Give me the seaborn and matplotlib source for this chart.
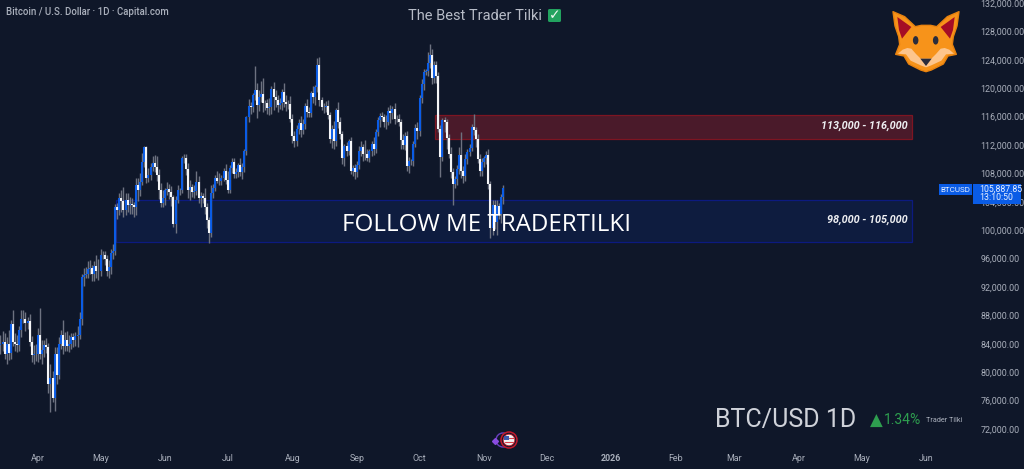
import matplotlib
matplotlib.use("Agg")
import matplotlib.pyplot as plt
import numpy as np
import pandas as pd
import seaborn as sns
from matplotlib.patches import Circle, Ellipse, FancyBboxPatch, Polygon, Rectangle

# daily closes in thousands of USD, one list per month
close_mar = [84.0, 84.3, 82.6, 84.0, 82.7, 86.8, 84.2, 84.0, 83.8, 86.0, 87.5, 87.5, 86.9, 87.2, 84.3, 82.4, 82.6, 82.5]
close_apr = [85.2, 82.5, 83.1, 83.8, 83.5, 78.3, 79.2, 76.3, 82.6, 79.6,
             84.0, 85.3, 83.7, 84.6, 83.7, 84.0, 84.9, 84.5, 85.1, 85.2,
             87.5, 93.4, 93.7, 93.9, 94.6, 94.7, 93.8, 95.0, 94.3, 94.2]
close_may = [96.5, 96.5, 96.0, 94.3, 94.8, 96.8, 97.0, 103.2, 102.9, 104.6,
             104.1, 102.8, 104.2, 103.5, 103.7, 103.5, 103.2, 106.4, 105.6, 106.8,
             109.6, 111.7, 107.3, 107.8, 108.9, 109.4, 108.9, 107.8, 105.6, 103.9, 104.6]
close_jun = [105.6, 105.8, 105.4, 104.7, 100.9, 104.3, 105.6, 105.7, 110.2, 110.2,
             108.6, 105.6, 106.1, 105.4, 105.5, 106.8, 104.5, 104.8, 104.6, 103.3,
             101.5, 99.6, 105.3, 106.0, 107.3, 107.0, 107.0, 107.3, 108.3, 107.1]
close_jul = [105.7, 108.8, 109.6, 107.9, 108.2, 109.2, 108.2, 108.9, 111.2, 115.9,
             117.5, 117.4, 119.0, 119.8, 117.6, 118.7, 119.2, 117.9, 117.9, 117.2,
             117.4, 119.9, 118.7, 118.3, 117.6, 117.9, 119.4, 118.0, 117.8, 117.8, 115.7]
close_aug = [113.2, 112.5, 114.2, 115.1, 114.1, 115.0, 117.5, 116.6, 116.5, 119.3,
             118.7, 120.1, 123.3, 118.3, 117.4, 117.4, 117.5, 116.2, 112.9, 114.2,
             112.5, 116.9, 115.3, 113.5, 110.1, 111.8, 111.2, 112.5, 108.4, 108.8, 108.2]
close_sep = [109.2, 111.2, 111.7, 110.7, 110.7, 110.2, 111.2, 112.1, 111.5, 113.9,
             115.5, 116.1, 115.9, 115.3, 115.3, 116.8, 116.5, 117.1, 115.7, 115.7,
             115.3, 112.7, 112.0, 113.3, 109.0, 109.7, 109.7, 112.1, 114.4, 114.0]
close_oct = [118.6, 120.6, 122.3, 122.4, 123.5, 124.7, 121.4, 123.3, 121.7, 114.3,
             110.3, 115.5, 115.2, 113.0, 110.8, 108.2, 106.5, 107.2, 108.6, 110.6,
             108.4, 107.6, 110.0, 111.0, 111.6, 114.5, 114.1, 112.9, 110.0, 108.3, 109.6]
close_nov = [110.1, 110.6, 106.5, 100.3, 103.5, 101.2, 103.4, 102.3, 104.7, 105.9]

# wick lengths above the body
up_mar = [1.2, 1.5, 1.2, 1.0, 2.0, 0.6, 2.0, 1.3, 1.2, 0.5, 1.2, 1.2, 1.0, 0.6, 1.0, 0.8, 1.2, 1.4]
up_apr = [1.0, 3.8, 1.5, 0.8, 1.0, 0.6, 2.0, 1.0, 0.9, 1.0, 1.0, 0.7, 2.0, 1.0, 1.2,
          1.3, 0.6, 0.6, 0.5, 1.3, 1.0, 0.5, 1.0, 0.9, 1.0, 1.1, 0.4, 0.6, 1.5, 1.7]
up_may = [0.8, 0.5, 0.6, 0.5, 1.0, 0.5, 1.0, 0.5, 0.7, 0.6, 1.0, 2.0, 1.0, 1.0, 1.0, 0.9,
          0.5, 0.9, 1.0, 1.2, 1.3, 0.1, 0.1, 1.0, 0.5, 1.0, 1.2, 1.5, 0.8, 1.0, 1.0]
up_jun = [0.4, 1.0, 0.7, 0.8, 0.3, 0.5, 0.8, 0.3, 0.3, 0.6, 0.5, 0.8, 1.0, 0.4, 0.8,
          1.5, 0.8, 0.6, 0.5, 1.3, 0.5, 0.3, 1.0, 0.5, 0.5, 1.0, 1.0, 0.5, 0.4, 1.0]
up_jul = [1.3, 0.4, 0.6, 0.5, 0.6, 0.3, 1.0, 0.6, 0.3, 0.2, 1.0, 0.6, 0.3, 3.3, 1.0, 1.0,
          1.8, 2.2, 0.4, 0.6, 1.2, 0.4, 1.0, 1.0, 0.8, 0.7, 0.5, 1.4, 1.0, 0.6, 1.1]
up_aug = [0.7, 0.8, 0.6, 0.6, 1.0, 0.7, 0.4, 1.0, 0.7, 0.3, 1.0, 0.4, 1.0, 1.1, 0.4, 0.5,
          0.7, 0.8, 0.5, 0.6, 1.2, 0.3, 1.2, 0.7, 0.5, 0.4, 0.6, 0.3, 0.6, 0.4, 0.5]
up_sep = [0.5, 0.7, 0.8, 0.5, 2.0, 0.8, 0.3, 0.5, 1.0, 0.4, 0.4, 0.4, 0.6, 0.4, 0.9,
          0.6, 0.8, 0.4, 0.8, 0.5, 0.7, 0.4, 0.9, 0.5, 0.7, 0.6, 0.3, 0.4, 0.5, 0.8]
up_oct = [0.4, 0.7, 0.4, 0.3, 1.6, 1.5, 0.8, 0.5, 0.6, 0.6, 0.5, 0.3, 0.5, 0.5, 0.6, 0.9,
          0.5, 0.4, 0.6, 1.1, 3.2, 0.6, 0.8, 0.5, 0.6, 0.4, 1.8, 0.4, 0.6, 0.8, 0.5]
up_nov = [0.4, 0.6, 0.8, 0.5, 0.7, 0.8, 0.8, 0.4, 0.4, 0.5]

# wick lengths below the body
down_mar = [1.4, 1.0, 0.8, 1.4, 1.0, 0.8, 0.5, 1.0, 1.0, 0.8, 1.0, 0.6, 1.1, 0.8, 0.6, 1.0, 1.2, 0.9]
down_apr = [1.0, 0.6, 1.3, 1.0, 0.8, 1.3, 3.9, 0.5, 1.7, 1.2, 0.5, 0.7, 1.2, 0.7, 0.7,
            0.8, 0.8, 1.0, 0.8, 1.5, 0.5, 0.8, 1.2, 0.5, 0.7, 0.7, 1.0, 1.0, 1.0, 1.2]
down_may = [0.7, 0.6, 0.9, 0.7, 1.0, 1.0, 0.8, 0.5, 1.3, 0.8, 1.5, 1.0, 0.6, 1.0, 1.2, 1.2,
            1.4, 1.0, 1.5, 0.8, 0.5, 0.7, 0.6, 0.5, 0.7, 0.6, 0.7, 0.8, 1.2, 0.7, 0.7]
down_jun = [1.0, 0.7, 1.0, 1.3, 0.4, 1.3, 0.4, 0.6, 0.5, 0.8, 0.8, 1.0, 1.3, 0.7, 0.8,
            0.5, 0.6, 1.2, 0.7, 1.0, 1.2, 1.4, 0.5, 0.8, 0.5, 0.4, 0.7, 0.6, 0.4, 0.6]
down_jul = [0.5, 0.5, 0.8, 0.5, 0.6, 0.7, 0.6, 1.0, 0.7, 0.6, 0.7, 1.0, 0.8, 0.7, 1.8, 0.8,
            0.6, 1.2, 0.9, 0.8, 1.0, 1.0, 1.7, 1.0, 0.9, 0.5, 0.9, 0.6, 1.0, 0.7, 0.5]
down_aug = [0.9, 0.8, 0.6, 0.7, 1.0, 0.6, 0.8, 0.6, 0.5, 0.6, 0.8, 1.0, 0.7, 0.8, 0.5, 0.9,
            0.7, 0.5, 0.6, 1.3, 1.0, 0.6, 0.9, 0.7, 0.8, 1.0, 0.7, 0.6, 0.5, 0.7, 1.0]
down_sep = [0.7, 0.6, 0.8, 0.9, 0.8, 0.5, 0.6, 0.7, 0.9, 0.6, 0.7, 0.9, 0.5, 0.8, 1.0,
            0.5, 1.4, 0.8, 0.7, 0.5, 0.6, 1.3, 0.6, 0.7, 0.7, 1.0, 0.5, 0.6, 0.4, 1.2]
down_oct = [0.8, 0.7, 0.8, 0.5, 0.7, 0.6, 0.8, 0.7, 0.9, 0.5, 2.8, 0.5, 1.3, 1.5, 0.7, 0.8,
            3.0, 0.5, 0.8, 0.7, 1.0, 1.0, 0.6, 0.7, 0.5, 0.4, 0.7, 1.2, 0.6, 0.7, 0.6]
down_nov = [0.7, 0.8, 0.7, 1.4, 1.0, 1.0, 1.9, 0.7, 1.3, 1.0]

price_ticks = [132, 128, 124, 120, 116, 112, 108, 104, 100, 96, 92, 88, 84, 80, 76, 72]
month_labels = ["Apr", "May", "Jun", "Jul", "Aug", "Sep", "Oct", "Nov", "Dec", "2026", "Feb", "Mar", "Apr", "May", "Jun"]
month_days = [0, 30, 61, 91, 122, 153, 183, 214, 244, 275, 306, 334, 365, 395, 426]  # days since 1 Apr 2025

resistance_zone = (112.9, 116.2)
support_zone = (98.3, 104.2)

BG = "#0f1729"
BLUE = "#0a5ce6"
WHITE = "#f4f5f7"
GREY = "#aab0bc"

sns.set_theme(style="dark", rc={"figure.facecolor": BG, "axes.facecolor": BG, "axes.edgecolor": BG})
plt.rcParams["font.family"] = ["Roboto", "DejaVu Sans"]

closes = np.array(close_mar + close_apr + close_may + close_jun + close_jul + close_aug + close_sep + close_oct + close_nov)
up_wick = np.array(up_mar + up_apr + up_may + up_jun + up_jul + up_aug + up_sep + up_oct + up_nov)
down_wick = np.array(down_mar + down_apr + down_may + down_jun + down_jul + down_aug + down_sep + down_oct + down_nov)
opens = np.r_[83.9, closes[:-1]]
days = np.arange(len(closes)) - len(close_mar)
highs = np.maximum(opens, closes) + up_wick
lows = np.minimum(opens, closes) - down_wick

# long tables so seaborn can draw each candle as one vertical segment
wicks = pd.DataFrame({
    "candle": np.tile(days, 2),
    "day": np.tile(days, 2),
    "price": np.r_[lows, highs],
})
bodies = pd.DataFrame({
    "candle": np.tile(days, 2),
    "day": np.tile(days, 2),
    "price": np.r_[opens, closes],
    "side": np.tile(np.where(closes >= opens, "up", "down"), 2),
})

fig = plt.figure(figsize=(10.24, 4.69), dpi=100)
ax = fig.add_axes([0, 21 / 469, 975 / 1024, 448 / 469])
ax.set_xlim(-18.2, 449.4)
ax.set_ylim(72 - 19 / 7.1, 132 + 3 / 7.1)

ax.add_patch(Rectangle((37.4, support_zone[0]), 419.2 - 37.4, support_zone[1] - support_zone[0],
                       facecolor="#0e1c3f", edgecolor="#0c1a80", lw=0.9, zorder=1))
ax.add_patch(Rectangle((190.4, resistance_zone[0]), 419.2 - 190.4, resistance_zone[1] - resistance_zone[0],
                       facecolor="#4a1a2a", edgecolor="#7d1522", lw=0.9, zorder=1))

sns.lineplot(data=wicks, x="day", y="price", units="candle", estimator=None, sort=False,
             color="#6d7280", lw=1.0, solid_capstyle="butt", ax=ax, legend=False, zorder=2)
sns.lineplot(data=bodies, x="day", y="price", units="candle", estimator=None, sort=False,
             hue="side", palette={"up": BLUE, "down": WHITE}, lw=1.5, solid_capstyle="butt",
             ax=ax, legend=False, zorder=3)

ax.set_xlabel("")
ax.set_ylabel("")
ax.yaxis.tick_right()
ax.set_yticks(price_ticks)
ax.set_yticklabels([f"{p},000.00" for p in price_ticks], fontsize=6.4, color=GREY)
ax.set_xticks(month_days)
ax.set_xticklabels(month_labels, fontsize=6.4, color=GREY)
ax.get_xticklabels()[9].set_fontweight("bold")
ax.tick_params(axis="both", length=0, pad=4)
ax.grid(False)
for s in ax.spines.values():
    s.set_visible(False)

# overlay in pixel coordinates for the texts and the logos
ov = fig.add_axes([0, 0, 1, 1], zorder=5)
ov.set_xlim(0, 1024)
ov.set_ylim(469, 0)
ov.axis("off")
ov.patch.set_alpha(0)

ov.text(6, 12, "Bitcoin / U.S. Dollar · 1D · Capital.com", color=GREY, fontsize=6.9, fontweight="medium", va="center")
ov.text(408, 16, "The Best Trader Tilki", color="#b7bcc7", fontsize=10.5, va="center")
ov.add_patch(FancyBboxPatch((548, 9), 13, 13, boxstyle="round,pad=0,rounding_size=1.5", fc="#22a35f", ec="none"))
ov.text(554.5, 15.5, "✓", color="#eef8f1", fontsize=10, family="DejaVu Sans", fontweight="bold", ha="center", va="center")

ov.text(908, 126, "113,000 - 116,000", color="#eeeff2", fontsize=7.8, fontweight="bold", style="italic", ha="right", va="center")
ov.text(908, 220, "98,000 - 105,000", color="#eeeff2", fontsize=7.8, fontweight="bold", style="italic", ha="right", va="center")
ov.text(342, 225, "FOLLOW ME TRADERTILKI", color="#ffffff", fontsize=17.4, family="Open Sans", fontweight="medium", va="center")

ov.text(715, 420, "BTC/USD 1D", color="#cfd2d9", fontsize=18, va="center")
ov.text(870, 421, "▲", color="#2e9e4f", fontsize=12, family="DejaVu Sans", va="center")
ov.text(884, 420, "1.34%", color="#2e9e4f", fontsize=10, va="center")
ov.text(926, 420, "Trader Tilki", color="#aab0bc", fontsize=5.2, va="center")

# price tag
ov.add_patch(Rectangle((939, 184), 33, 11, fc="#0a5ce6", ec="none"))
ov.add_patch(Rectangle((973, 184), 48, 20, fc="#0a5ce6", ec="none"))
ov.text(955.5, 189.5, "BTCUSD", color="#e8f0ff", fontsize=5.8, ha="center", va="center")
ov.text(979, 189.3, "105,887.85", color="#e8f0ff", fontsize=6.3, va="center")
ov.text(979, 197.3, "13:10:50", color="#e8f0ff", fontsize=6.3, va="center")


def fox_pts(pts):
    return [(888 + x / 3, 6 + y / 3) for x, y in pts]


head = [(15, 17), (50, 32), (82, 62), (100, 58), (128, 58), (146, 62), (178, 32), (213, 17), (207, 60), (196, 92),
        (193, 115), (205, 145), (180, 150), (166, 174), (130, 192), (114, 197), (98, 192), (62, 174), (48, 150),
        (23, 145), (35, 115), (32, 92), (21, 60)]
ear_l = [(28, 33), (70, 63), (42, 98), (33, 72)]
ear_r = [(200, 33), (158, 63), (186, 98), (195, 72)]
cream = [(30, 143), (44, 131), (58, 126), (70, 128), (84, 144), (98, 158), (130, 158), (144, 144), (158, 128), (170, 126),
         (184, 131), (198, 143), (174, 145), (160, 164), (130, 178), (114, 184), (98, 178), (68, 164), (54, 145)]
nose = [(97, 158), (131, 158), (114, 180)]
ov.add_patch(Polygon(fox_pts(head), fc="#f7931a", ec="#e8820f", lw=1.0, joinstyle="round"))
ov.add_patch(Polygon(fox_pts(ear_l), fc="#a50d25", ec="none"))
ov.add_patch(Polygon(fox_pts(ear_r), fc="#a50d25", ec="none"))
ov.add_patch(Polygon(fox_pts(cream), fc="#fdc58c", ec="none"))
ov.add_patch(Polygon(fox_pts(nose), fc="#2a2c3c", ec="none"))
for ex in (83, 143):
    ov.add_patch(Ellipse((888 + ex / 3, 6 + 103 / 3), 5.5, 8.5, fc="#2a2c3c", ec="none"))

# small flag badge at the bottom
ov.add_patch(Circle((503, 440), 7, fc="none", ec="#6a3fc0", lw=1))
ov.plot([495], [441], marker="D", ms=3, color="#8a4ce0", ls="none")
ov.add_patch(Circle((509, 440), 8, fc=BG, ec="#c8182c", lw=1.1))
ov.add_patch(Circle((509, 440), 5.8, fc="#f2f2f2", ec="#c8182c", lw=0.6))
ov.add_patch(Rectangle((504, 436), 5, 4, fc="#3c5bb0", ec="none"))
ov.plot([509, 514], [438, 438], color="#d9404a", lw=0.8)
ov.plot([505, 513], [442, 442], color="#d9404a", lw=0.8)

fig.savefig("out.png", dpi=100, facecolor=BG)
